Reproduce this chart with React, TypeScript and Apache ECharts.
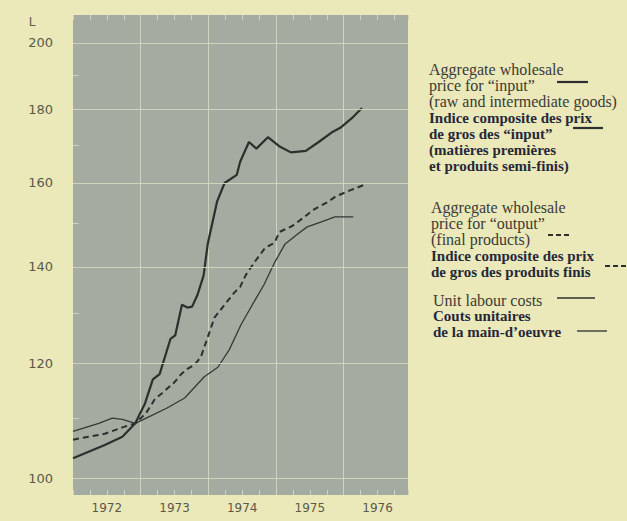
import React, { useEffect, useRef } from "react";
import * as echarts from "echarts";

// ---- Data (x = fractional year, index, log scale) ----
const inputTimes = [1972.0, 1972.47, 1972.73, 1972.92, 1973.06, 1973.18, 1973.28, 1973.44, 1973.51, 1973.61, 1973.69, 1973.76, 1973.84, 1973.93, 1973.99, 1974.13, 1974.24, 1974.42, 1974.47, 1974.6, 1974.71, 1974.88, 1975.06, 1975.22, 1975.44, 1975.63, 1975.82, 1975.95, 1976.12, 1976.27];
const inputValues = [103.2, 105.4, 106.8, 109.1, 112.5, 117.0, 118.0, 124.8, 125.5, 131.8, 131.2, 131.4, 133.9, 138.1, 145.1, 155.4, 160.0, 162.1, 165.5, 170.8, 169.0, 172.1, 169.5, 168.0, 168.4, 170.8, 173.4, 174.7, 177.4, 180.3];

const outputTimes = [1972.0, 1972.47, 1972.73, 1972.92, 1973.08, 1973.21, 1973.32, 1973.5, 1973.6, 1973.68, 1973.8, 1973.89, 1974.0, 1974.09, 1974.24, 1974.38, 1974.47, 1974.55, 1974.68, 1974.84, 1974.98, 1975.05, 1975.24, 1975.38, 1975.57, 1975.76, 1975.88, 1976.12, 1976.3];
const outputValues = [106.3, 107.3, 108.4, 109.1, 110.9, 113.4, 114.5, 116.5, 118.0, 118.9, 119.8, 121.3, 125.5, 129.1, 131.8, 134.3, 135.6, 138.1, 141.0, 144.3, 145.5, 148.0, 149.4, 151.1, 153.5, 155.2, 156.6, 158.3, 159.5];

const labourTimes = [1972.0, 1972.38, 1972.58, 1972.73, 1972.92, 1973.15, 1973.39, 1973.65, 1973.94, 1974.14, 1974.31, 1974.48, 1974.65, 1974.82, 1974.97, 1975.13, 1975.32, 1975.46, 1975.67, 1975.87, 1976.14];
const labourValues = [107.7, 109.1, 110.0, 109.8, 109.1, 110.4, 111.8, 113.6, 117.5, 119.3, 122.7, 127.6, 131.8, 136.0, 140.7, 145.1, 147.5, 149.2, 150.4, 151.6, 151.6];

const yTickValues = [100, 120, 140, 160, 180, 200];
const yMinorTickValues = [110, 130, 150, 170, 190];
const xMin = 1972;
const xMax = 1976.95;

const legendBlocks = [
  {
    x: 429, y: 71,
    lines: [
      { t: "Aggregate wholesale", b: false },
      { t: "price for \u201Cinput\u201D", b: false },
      { t: "(raw and intermediate goods)", b: false },
      { t: "Indice composite des prix", b: true },
      { t: "de gros des \u201Cinput\u201D", b: true },
      { t: "(mati\u00E8res premi\u00E8res", b: true },
      { t: "et produits semi-finis)", b: true },
    ],
  },
  {
    x: 431, y: 209,
    lines: [
      { t: "Aggregate wholesale", b: false },
      { t: "price for \u201Coutput\u201D", b: false },
      { t: "(final products)", b: false },
      { t: "Indice composite des prix", b: true },
      { t: "de gros des produits finis", b: true },
    ],
  },
  {
    x: 433, y: 302,
    lines: [
      { t: "Unit labour costs", b: false },
      { t: "Couts unitaires", b: true },
      { t: "de la main-d\u2019oeuvre", b: true },
    ],
  },
];

const PAPER = "#ebe8b9";
const PANEL = "#a4aba0";
const GRIDLINE = "#d0d4bc";
const INK = "#2b302e";
const LABEL = "#5a5a4a";

export default function App() {
  const ref = useRef<HTMLDivElement>(null);
  useEffect(() => {
    document.body.style.margin = "0";
    document.body.style.background = PAPER;
    const chart = echarts.init(ref.current!, null, { renderer: "svg" });

    const pairs = (t: number[], v: number[]) => t.map((x, i) => [x, v[i]]);

    const gridMarkLines: any[] = yTickValues.map((v) => ({ yAxis: v }));
    const minorMarks: any[] = yMinorTickValues.map((v) => [
      { coord: [xMin, v] },
      { coord: [xMin + 0.08, v] },
    ]);

    const graphics: any[] = [];
    legendBlocks.forEach((blk) => {
      blk.lines.forEach((ln, i) => {
        graphics.push({
          type: "text",
          x: blk.x,
          y: blk.y + i * 16.2 - 2,
          style: {
            text: ln.t,
            fill: ln.b ? "#26283a" : "#3b3b36",
            font: `${ln.b ? "bold 15px" : "16px"} "Liberation Serif", serif`,
            verticalAlign: "middle",
            align: "left",
          },
        });
      });
    });
    const sample = (x1: number, x2: number, y: number, w: number, dash?: number[]) => ({
      type: "line",
      shape: { x1, y1: y, x2, y2: y },
      style: { stroke: INK, lineWidth: w, lineDash: dash },
    });
    graphics.push(
      sample(557, 588, 82, 2.2),
      sample(573, 603, 128, 2.2),
      sample(548, 572, 235, 2, [5, 3]),
      sample(605, 627, 266, 2, [5, 3]),
      sample(557, 595, 298, 1.3),
      sample(577, 607, 331, 1.3)
    );
    graphics.push({
      type: "text",
      x: 32,
      y: 22,
      style: {
        text: "L",
        fill: LABEL,
        font: '12px "DejaVu Sans", sans-serif',
        verticalAlign: "middle",
        align: "center",
      },
    });

    chart.setOption({
      animation: false,
      backgroundColor: PAPER,
      grid: {
        left: 73,
        top: 15,
        width: 335,
        height: 480,
        show: true,
        backgroundColor: PANEL,
        borderWidth: 0,
      },
      xAxis: [
        {
          type: "value",
          min: xMin,
          max: xMax,
          interval: 1,
          axisLine: { show: false },
          axisLabel: { show: false },
          axisTick: { show: true, inside: true, length: 5, lineStyle: { color: GRIDLINE } },
          minorTick: { show: true, splitNumber: 4, length: 5, lineStyle: { color: GRIDLINE } },
          splitLine: { show: true, showMinLine: false, showMaxLine: false, lineStyle: { color: GRIDLINE, width: 1 } },
        },
        {
          type: "value",
          position: "bottom",
          min: xMin,
          max: xMax,
          interval: 0.5,
          axisLine: { show: false },
          axisTick: { show: false },
          splitLine: { show: false },
          axisLabel: {
            show: true,
            margin: 7,
            color: LABEL,
            fontFamily: "DejaVu Sans",
            fontSize: 12,
            showMaxLabel: false,
            formatter: (v: number) => (Math.abs((v % 1) - 0.5) < 1e-6 ? String(Math.floor(v)) : ""),
          },
        },
        {
          type: "value",
          position: "top",
          min: xMin,
          max: xMax,
          interval: 1,
          axisLine: { show: false },
          axisLabel: { show: false },
          splitLine: { show: false },
          axisTick: { show: true, inside: true, length: 5, lineStyle: { color: GRIDLINE } },
          minorTick: { show: true, splitNumber: 4, length: 5, lineStyle: { color: GRIDLINE } },
        },
      ],
      yAxis: {
        type: "log",
        logBase: 10,
        min: 97.33,
        max: 209.1,
        axisLine: { show: false },
        axisTick: { show: false, customValues: yTickValues },
        axisLabel: {
          show: true,
          customValues: yTickValues,
          margin: 20,
          color: LABEL,
          fontFamily: "DejaVu Sans",
          fontSize: 13,
        },
        splitLine: { show: false },
      },
      series: [
        {
          name: "Unit labour costs",
          type: "line",
          z: 2,
          xAxisIndex: 0,
          data: pairs(labourTimes, labourValues),
          showSymbol: false,
          symbol: "none",
          lineStyle: { color: "#343937", width: 1.3 },
          markLine: {
            silent: true,
            symbol: "none",
            animation: false,
            lineStyle: { color: GRIDLINE, width: 1, type: "solid" },
            label: { show: false },
            data: [...gridMarkLines, ...minorMarks],
          },
        },
        {
          name: "Output",
          type: "line",
          z: 3,
          xAxisIndex: 0,
          data: pairs(outputTimes, outputValues),
          showSymbol: false,
          symbol: "none",
          lineStyle: { color: INK, width: 2, type: [6, 4] },
        },
        {
          name: "Input",
          type: "line",
          z: 3,
          xAxisIndex: 0,
          data: pairs(inputTimes, inputValues),
          showSymbol: false,
          symbol: "none",
          lineStyle: { color: INK, width: 2.2 },
        },
      ],
      graphic: graphics,
    });
    return () => chart.dispose();
  }, []);
  return (
    <div
      ref={ref}
      style={{ position: "absolute", left: 0, top: 0, width: 627, height: 521 }}
    />
  );
}
